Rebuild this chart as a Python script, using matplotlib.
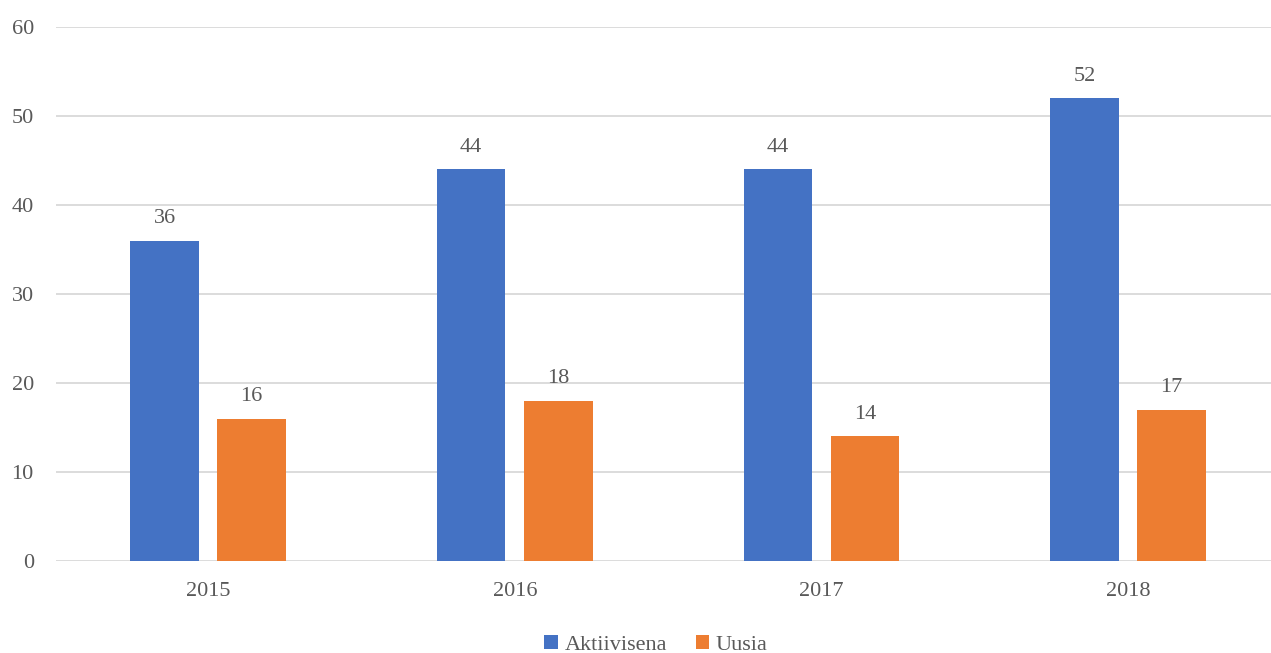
import numpy as np
import matplotlib
matplotlib.use("Agg")
import matplotlib.pyplot as plt

years = ["2015", "2016", "2017", "2018"]
aktiivisena = [36, 44, 44, 52]
uusia = [16, 18, 14, 17]

plt.rcParams["font.family"] = ["Liberation Serif", "DejaVu Serif"]
txt = "#595959"

fig = plt.figure(figsize=(12.71, 6.53), dpi=100)
ax = fig.add_axes([56 / 1271, 1 - 561 / 653, 1 - 56 / 1271, (561 - 27) / 653])

x = np.arange(len(years))
w = 0.223
off = 0.142
b1 = ax.bar(x - off, aktiivisena, w, color="#4472C4", label="Aktiivisena", zorder=3)
b2 = ax.bar(x + off, uusia, w, color="#ED7D31", label="Uusia", zorder=3)
for bars in (b1, b2):
    ax.bar_label(bars, padding=9, fontsize=16, color=txt)

ax.set_ylim(0, 60)
ax.set_xlim(-0.496, 3.466)
ax.set_yticks(range(0, 61, 10))
ax.set_xticks(x)
ax.set_xticklabels(years)
ax.tick_params(axis="both", length=0, labelsize=16, labelcolor=txt)
ax.tick_params(axis="y", pad=16)
ax.tick_params(axis="x", pad=15)
ax.grid(True, axis="y", color="#d9d9d9", lw=1.3, zorder=0)
for s in ax.spines.values():
    s.set_visible(False)

fig.legend(handles=[b1, b2], loc="center", bbox_to_anchor=(656 / 1271, 1 - 645 / 653),
           ncol=2, frameon=False, fontsize=16, labelcolor=txt,
           handlelength=0.6, handleheight=0.6, handletextpad=0.3, columnspacing=1.3)

fig.savefig("out.png", dpi=100)
